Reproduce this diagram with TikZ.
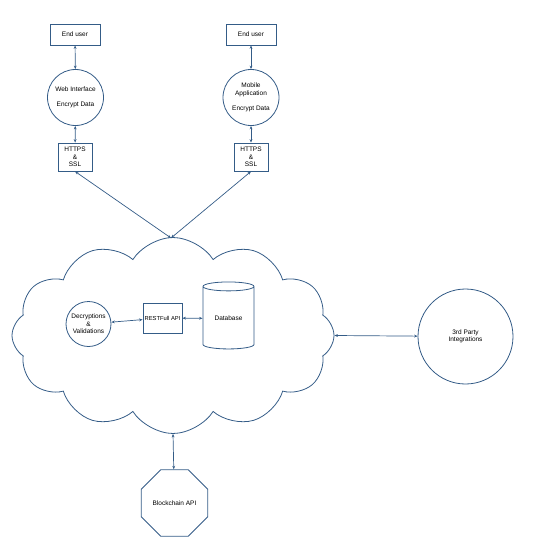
\documentclass[tikz,border=0pt]{standalone}
\usepackage{fontspec}
\setmainfont{Liberation Sans}
\usetikzlibrary{positioning,arrows.meta,shapes.geometric,shapes.symbols}
\definecolor{lnblue}{RGB}{52,92,135}
\tikzset{
  base/.style={draw=lnblue,line width=0.8pt,font=\fontsize{6.5}{7.5}\selectfont,align=center,inner sep=1pt},
  boxn/.style={base,rectangle},
  circn/.style={base,circle},
  dbn/.style={base,cylinder,shape border rotate=90,aspect=0.3},
  octn/.style={base,regular polygon,regular polygon sides=8,inner sep=0pt},
  cloudn/.style={base,cloud,cloud puffs=12,cloud puff arc=115},
  biarr/.style={{Stealth[length=3.5pt,width=2.8pt]}-{Stealth[length=3.5pt,width=2.8pt]},draw=lnblue,line width=0.7pt},
}
\begin{document}
\begin{tikzpicture}[x=1pt,y=-1pt]
  \useasboundingbox (0,0) rectangle (533,551);
  % users and front ends
  \node[boxn,minimum width=50,minimum height=21] (user1) at (75,34.5) {End user};
  \node[boxn,minimum width=50,minimum height=21] (user2) at (251,34.5) {End user};
  \node[circn,minimum size=56] (web) at (75.5,97.5) {Web Interface\\[8pt]Encrypt Data};
  \node[circn,minimum size=56] (mobile) at (251,97.5) {Mobile\\Application\\[8pt]Encrypt Data};
  \node[boxn,minimum width=34,minimum height=28] (https1) at (75,157) {HTTPS\\\&\\SSL};
  \node[boxn,minimum width=34,minimum height=28] (https2) at (251,157) {HTTPS\\\&\\SSL};
  % cloud back end
  \node[cloudn,minimum width=322,minimum height=196] (cloud) at (173,335.5) {};
  \node[circn,minimum size=45] (dec) at (88.5,324) {Decryptions\\\&\\Validations};
  \node[boxn,minimum width=39,minimum height=30,font=\fontsize{5.8}{7}\selectfont] (rest) at (162.5,318) {RESTFull API};
  \node[dbn,minimum width=51,minimum height=67] (db) at (228.5,318.5) {Database};
  \node[circn,minimum size=95] (party) at (465.5,336.5) {3rd Party\\Integrations};
  \node[octn,minimum size=72] (chain) at (174.5,503) {Blockchain API};
  \coordinate (hub) at (171,238);
  % connectors
  \draw[biarr] (user1) -- (web);
  \draw[biarr] (web) -- (https1);
  \draw[biarr] (user2) -- (mobile);
  \draw[biarr] (mobile) -- (https2);
  \draw[biarr] (https1.south) -- (hub);
  \draw[biarr] (https2.south) -- (hub);
  \draw[biarr] (dec) -- (rest);
  \draw[biarr] (rest) -- (db);
  \draw[biarr] (cloud.east) -- (party);
  \draw[biarr] (cloud.south) -- (chain);
\end{tikzpicture}
\end{document}
